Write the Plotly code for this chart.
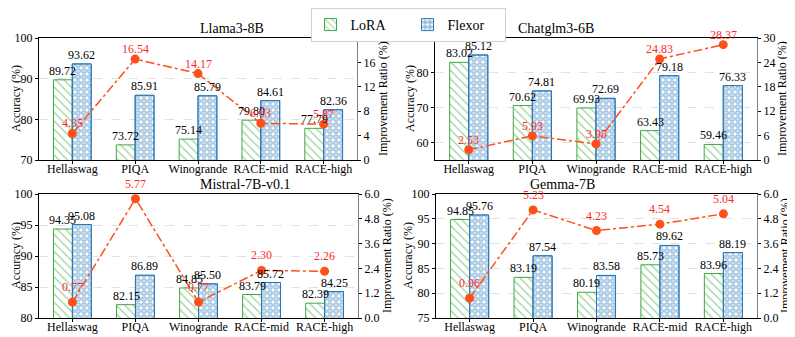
import plotly.graph_objects as go

categories = ["Hellaswag", "PIQA", "Winogrande", "RACE-mid", "RACE-high"]

llama_lora = [89.72, 73.72, 75.14, 79.80, 77.79]
llama_flexor = [93.62, 85.91, 85.79, 84.61, 82.36]
llama_ratio = [4.35, 16.54, 14.17, 6.03, 5.87]

chatglm_lora = [83.02, 70.62, 69.93, 63.43, 59.46]
chatglm_flexor = [85.12, 74.81, 72.69, 79.18, 76.33]
chatglm_ratio = [2.53, 5.93, 3.95, 24.83, 28.37]

mistral_lora = [94.35, 82.15, 84.85, 83.79, 82.39]
mistral_flexor = [95.08, 86.89, 85.50, 85.72, 84.25]
mistral_ratio = [0.77, 5.77, 0.77, 2.30, 2.26]

gemma_lora = [94.85, 83.19, 80.19, 85.73, 83.96]
gemma_flexor = [95.76, 87.54, 83.58, 89.62, 88.19]
gemma_ratio = [0.96, 5.23, 4.23, 4.54, 5.04]

FONT = "Liberation Serif"
GREEN = "#3fa83f"
BLUE = "#2878b8"
LINE = "#ff4f1a"
LABEL_RED = "#ff2a2a"
XRANGE = [-0.53, 4.53]

# page body adds an 8px margin, so the figure is 8px smaller than the window
W, H = 787, 329


def px_x(a):
    return (a - 8) / W


def px_y(b):
    return 1 - (b - 8) / H


# name, lora, flexor, ratio, acc range, acc dtick, ratio range, ratio dtick, ratio fmt,
# plot box (left, right, top, bottom), left/right title x, label shift
panels = [
    ("Llama3-8B", llama_lora, llama_flexor, llama_ratio, [70, 100], 10, [0, 20], 4, "d",
     (39, 357, 38, 160), (16, 383), 10),
    ("Chatglm3-6B", chatglm_lora, chatglm_flexor, chatglm_ratio, [55, 90], 10, [0, 30], 6, "d",
     (435, 757, 38, 160), (410, 782), 10),
    ("Mistral-7B-v0.1", mistral_lora, mistral_flexor, mistral_ratio, [80, 100], 5, [0, 6], 1.2, ".1f",
     (39, 358, 194, 318), (16, 387), 15),
    ("Gemma-7B", gemma_lora, gemma_flexor, gemma_ratio, [75, 100], 5, [0, 6], 1.2, ".1f",
     (436, 757, 194, 318), (408, 785), 15),
]

fig = go.Figure()
annotations = []
layout = {}

for i, (name, lora, flexor, ratio, yr, ydt, rr, rdt, rfmt, box, tx, shift) in enumerate(panels):
    n = i + 1
    xa = "x" if n == 1 else "x%d" % n
    ya = "y%d" % (2 * n - 1) if n > 1 else "y"
    yb = "y%d" % (2 * n)
    xdom = [px_x(box[0]), px_x(box[1])]
    ydom = [px_y(box[3]), px_y(box[2])]
    half_bar = 0.15 * (box[1] - box[0]) / (XRANGE[1] - XRANGE[0])

    fig.add_trace(go.Bar(
        x=categories, y=lora, xaxis=xa, yaxis=ya, name="LoRA",
        offset=-0.3, width=0.3, showlegend=(n == 1), legendgroup="lora",
        marker=dict(color="white", line=dict(color=GREEN, width=1),
                    pattern=dict(shape="\\", fgcolor=GREEN, bgcolor="white", size=6, solidity=0.22)),
    ))
    fig.add_trace(go.Bar(
        x=categories, y=flexor, xaxis=xa, yaxis=ya, name="Flexor",
        offset=0, width=0.3, showlegend=(n == 1), legendgroup="flexor",
        marker=dict(color="white", line=dict(color=BLUE, width=1),
                    pattern=dict(shape=".", fgcolor=BLUE, bgcolor="white", size=6, solidity=0.7)),
    ))
    # white centres on top of the blue dots -> rings
    fig.add_trace(go.Bar(
        x=categories, y=flexor, xaxis=xa, yaxis=ya, name="Flexor",
        offset=0, width=0.3, showlegend=False, legendgroup="flexor", hoverinfo="skip",
        marker=dict(color="rgba(0,0,0,0)", line=dict(color=BLUE, width=1),
                    pattern=dict(shape=".", fgcolor="white", size=6, solidity=0.3)),
    ))
    fig.add_trace(go.Scatter(
        x=categories, y=ratio, xaxis=xa, yaxis=yb, mode="lines+markers",
        showlegend=False, cliponaxis=False,
        line=dict(color=LINE, width=1.5, dash="dashdot"),
        marker=dict(color=LINE, size=9),
    ))

    # value labels above bars
    for c, a, b in zip(categories, lora, flexor):
        annotations.append(dict(
            x=c, y=a, xref=xa, yref=ya, text="%.2f" % a, showarrow=False,
            xshift=-half_bar, yanchor="bottom", yshift=0,
            font=dict(family=FONT, size=12, color="black"),
        ))
        annotations.append(dict(
            x=c, y=b, xref=xa, yref=ya, text="%.2f" % b, showarrow=False,
            xshift=half_bar, yanchor="bottom", yshift=0,
            font=dict(family=FONT, size=12, color="black"),
        ))
    for c, r in zip(categories, ratio):
        annotations.append(dict(
            x=c, y=r, xref=xa, yref=yb, text="%.2f" % r, showarrow=False,
            yshift=shift, font=dict(family=FONT, size=12, color=LABEL_RED),
        ))
    annotations.append(dict(
        x=(xdom[0] + xdom[1]) / 2, y=ydom[1], xref="paper", yref="paper",
        text=name, showarrow=False, yanchor="bottom", yshift=0,
        font=dict(family=FONT, size=14, color="black"),
    ))
    # axis titles
    ymid = (ydom[0] + ydom[1]) / 2
    annotations.append(dict(
        x=px_x(tx[0]), y=ymid, xref="paper", yref="paper", text="Accuracy (%)",
        showarrow=False, textangle=-90, xanchor="center", yanchor="middle",
        font=dict(family=FONT, size=12, color="black"),
    ))
    annotations.append(dict(
        x=px_x(tx[1]), y=ymid, xref="paper", yref="paper", text="Improvement Ratio (%)",
        showarrow=False, textangle=-90, xanchor="center", yanchor="middle",
        font=dict(family=FONT, size=12, color="black"),
    ))

    xkey = "xaxis" if n == 1 else "xaxis%d" % n
    ykey = "yaxis" if n == 1 else "yaxis%d" % (2 * n - 1)
    y2key = "yaxis%d" % (2 * n)
    layout[xkey] = dict(
        domain=xdom, anchor=ya, type="category", range=XRANGE,
        showline=True, linecolor="black", linewidth=1, mirror=True,
        ticks="outside", ticklen=3, tickcolor="black", showgrid=False,
        ticklabelstandoff=-5,
        tickfont=dict(family=FONT, size=12, color="black"), automargin=False,
    )
    layout[ykey] = dict(
        domain=ydom, anchor=xa, range=yr, dtick=ydt, tick0=0,
        showline=True, linecolor="black", linewidth=1,
        ticks="outside", ticklen=3, tickcolor="black",
        showgrid=True, gridcolor="#e2e2e2", griddash="dash", gridwidth=0.8, zeroline=False,
        tickfont=dict(family=FONT, size=12, color="black"), automargin=False,
    )
    layout[y2key] = dict(
        overlaying=ya, anchor=xa, side="right", range=rr, dtick=rdt, tick0=0, tickformat=rfmt,
        showline=True, linecolor="#808080", linewidth=1,
        ticks="outside", ticklen=3, tickcolor="black", showgrid=False, zeroline=False,
        tickfont=dict(family=FONT, size=12, color="black"), automargin=False,
    )

fig.update_layout(
    width=W, height=H,
    margin=dict(l=0, r=0, t=0, b=0),
    paper_bgcolor="white", plot_bgcolor="white",
    barmode="overlay",
    font=dict(family=FONT, size=12, color="black"),
    annotations=annotations,
    legend=dict(
        orientation="h", x=px_x(408), xanchor="center", y=1.0, yanchor="top",
        bordercolor="#d0d0d0", borderwidth=1, bgcolor="white", entrywidth=52,
        font=dict(family=FONT, size=14, color="black"),
    ),
    **layout,
)

fig.write_html("out.html")
